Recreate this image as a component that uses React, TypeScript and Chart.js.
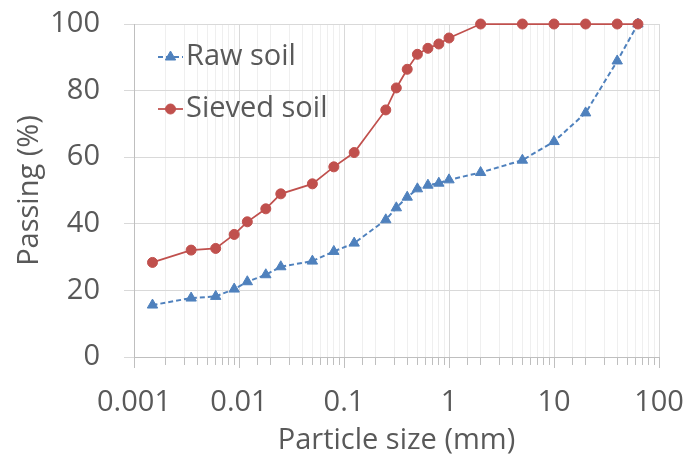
import { useEffect, useRef } from 'react';
import { Chart, registerables } from 'chart.js';
import { drawPoint } from 'chart.js/helpers';

Chart.register(...registerables);

// Particle size (mm) shared by both gradation curves
const particleSize = [
  0.0015, 0.0035, 0.006, 0.009, 0.012, 0.018, 0.025, 0.05, 0.08, 0.125,
  0.25, 0.315, 0.4, 0.5, 0.63, 0.8, 1, 2, 5, 10, 20, 40, 63,
];
// Percent passing
const rawPassing = [
  15.6, 17.7, 18.2, 20.4, 22.6, 24.7, 27.1, 28.8, 31.7, 34.2,
  41.2, 44.8, 48.0, 50.5, 51.6, 52.2, 53.2, 55.4, 59.1, 64.7, 73.3, 88.9, 100,
];
const sievedPassing = [
  28.4, 32.1, 32.6, 36.8, 40.6, 44.5, 49.0, 52.0, 57.1, 61.4,
  74.2, 80.8, 86.4, 90.9, 92.7, 94.0, 95.8, 100, 100, 100, 100, 100, 100,
];
const seriesNames = ['Raw soil', 'Sieved soil'];
const xTickLabels = ['0.001', '0.01', '0.1', '1', '10', '100'];
const yTickLabels = ['0', '20', '40', '60', '80', '100'];
const xTitle = 'Particle size (mm)';
const yTitle = 'Passing (%)';

const TEXT = '#595959';
const FONT = '"Open Sans", "DejaVu Sans", sans-serif';
const FONT_SIZE = 29;
const MAJOR_GRID = '#D9D9D9';
const MINOR_GRID = '#EFEFEF';
const AXIS = '#BFBFBF';

const isDecade = (v: number) => {
  const l = Math.log10(v);
  return Math.abs(l - Math.round(l)) < 1e-6;
};

// Longer tick marks under each decade of the log axis
const decadeTicks = {
  id: 'decadeTicks',
  afterDraw(chart: any) {
    const { ctx } = chart;
    const xs = chart.scales.x;
    ctx.save();
    ctx.strokeStyle = AXIS;
    ctx.lineWidth = 1;
    xTickLabels.forEach((l) => {
      const px = Math.round(xs.getPixelForValue(Number(l))) + 0.5;
      ctx.beginPath();
      ctx.moveTo(px, xs.top);
      ctx.lineTo(px, xs.top + 11);
      ctx.stroke();
    });
    ctx.restore();
  },
};

// Legend drawn inside the plot area, top-left
const insideLegend = {
  id: 'insideLegend',
  afterDraw(chart: any) {
    const { ctx, chartArea } = chart;
    const x0 = chartArea.left + 24;
    const rows = [chartArea.top + 33, chartArea.top + 85];
    chart.data.datasets.forEach((ds: any, i: number) => {
      const y = rows[i];
      ctx.save();
      ctx.strokeStyle = ds.borderColor;
      ctx.lineWidth = ds.borderWidth;
      ctx.setLineDash(ds.borderDash || []);
      ctx.beginPath();
      ctx.moveTo(x0, y);
      ctx.lineTo(x0 + 25, y);
      ctx.stroke();
      ctx.setLineDash([]);
      ctx.fillStyle = ds.pointBackgroundColor;
      ctx.strokeStyle = ds.pointBorderColor;
      ctx.lineWidth = 1;
      drawPoint(ctx, { pointStyle: ds.pointStyle, radius: ds.pointRadius, borderWidth: 1, rotation: 0 } as any, x0 + 12.5, y);
      ctx.fillStyle = TEXT;
      ctx.font = `${FONT_SIZE}px ${FONT}`;
      ctx.textBaseline = 'middle';
      ctx.textAlign = 'left';
      ctx.fillText(ds.label, x0 + 28, y);
      ctx.restore();
    });
  },
};

export default function App() {
  const canvasRef = useRef<HTMLCanvasElement>(null);

  useEffect(() => {
    document.body.style.margin = '0';
    const canvas = canvasRef.current;
    if (!canvas) return;

    const chart = new Chart(canvas, {
      type: 'scatter',
      data: {
        datasets: [
          {
            label: seriesNames[0],
            data: particleSize.map((x, i) => ({ x, y: rawPassing[i] })),
            showLine: true,
            borderColor: '#4F81BD',
            borderWidth: 2,
            borderDash: [5, 3],
            pointStyle: 'triangle',
            pointRadius: 6,
            pointBackgroundColor: '#4F81BD',
            pointBorderColor: '#4F81BD',
            pointBorderWidth: 1,
            order: 1,
            clip: false,
          },
          {
            label: seriesNames[1],
            data: particleSize.map((x, i) => ({ x, y: sievedPassing[i] })),
            showLine: true,
            borderColor: '#C0504D',
            borderWidth: 1.75,
            pointStyle: 'circle',
            pointRadius: 5,
            pointBackgroundColor: '#C0504D',
            pointBorderColor: '#C0504D',
            pointBorderWidth: 1,
            order: 0,
            clip: false,
          },
        ],
      } as any,
      options: {
        responsive: false,
        animation: false,
        layout: { padding: { top: 24, right: 28, left: 0, bottom: 0 } },
        plugins: {
          legend: { display: false },
          tooltip: { enabled: false },
        },
        scales: {
          x: {
            type: 'logarithmic',
            min: 0.001,
            max: 100,
            afterFit: (scale: any) => {
              scale.height = 101;
              scale.paddingLeft = 0;
              scale.paddingRight = 0;
            },
            border: { display: true, color: AXIS, width: 1 },
            grid: {
              display: true,
              drawOnChartArea: true,
              drawTicks: true,
              color: (c: any) => (c.tick && isDecade(c.tick.value) ? MAJOR_GRID : MINOR_GRID),
              tickColor: AXIS,
              tickLength: 8,
              lineWidth: 1,
            },
            ticks: {
              autoSkip: false,
              maxRotation: 0,
              padding: 20,
              color: TEXT,
              font: { family: FONT, size: FONT_SIZE },
              callback: (value: any) => {
                const v = Number(value);
                const hit = xTickLabels.find((l) => Math.abs(Math.log10(Number(l)) - Math.log10(v)) < 1e-6);
                return hit ?? '';
              },
            },
            title: {
              display: true,
              text: xTitle,
              color: TEXT,
              font: { family: FONT, size: FONT_SIZE },
              padding: { top: 0, bottom: 0 },
            },
          },
          y: {
            min: 0,
            max: 100,
            afterFit: (scale: any) => {
              scale.width = 134;
              scale.paddingTop = 0;
              scale.paddingBottom = 0;
            },
            border: { display: true, color: AXIS, width: 1 },
            grid: {
              display: true,
              drawOnChartArea: true,
              drawTicks: true,
              color: MAJOR_GRID,
              tickColor: MAJOR_GRID,
              tickLength: 10,
              lineWidth: 1,
            },
            ticks: {
              stepSize: 20,
              padding: 24,
              color: TEXT,
              font: { family: FONT, size: FONT_SIZE },
              callback: (value: any) => yTickLabels.find((l) => Number(l) === Number(value)) ?? '',
            },
            title: {
              display: true,
              text: yTitle,
              color: TEXT,
              font: { family: FONT, size: FONT_SIZE },
              padding: { top: 12, bottom: 0 },
            },
          },
        },
      } as any,
      plugins: [decadeTicks, insideLegend],
    });

    return () => chart.destroy();
  }, []);

  return (
    <div style={{ position: 'relative', width: 687, height: 458, background: '#fff' }}>
      <canvas ref={canvasRef} width={687} height={458} />
    </div>
  );
}
